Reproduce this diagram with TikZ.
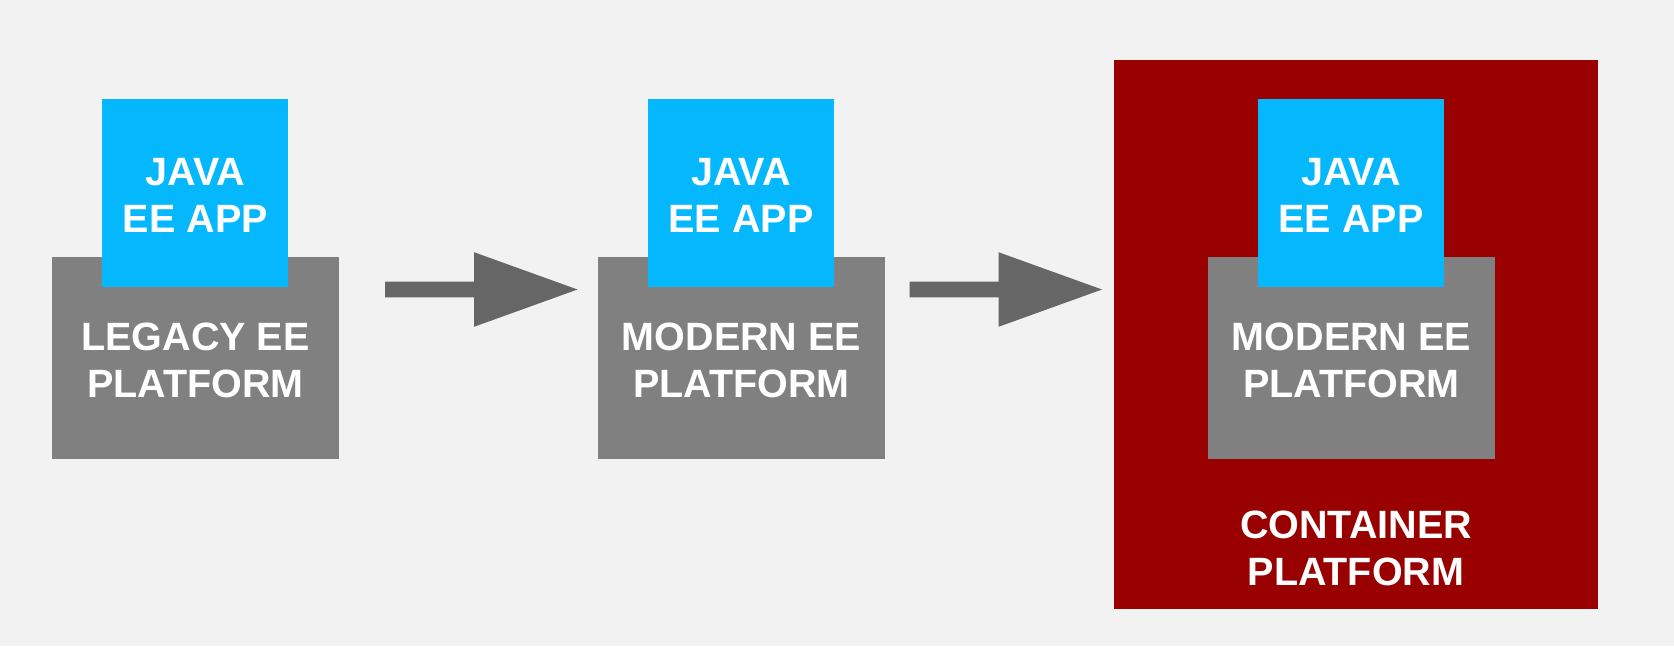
\documentclass[tikz,border=0pt]{standalone}
\usepackage{fontspec}
\setmainfont{Liberation Sans}
\usetikzlibrary{calc}
\definecolor{bgpage}{HTML}{F2F2F2}
\definecolor{appblue}{HTML}{05B8FE}
\definecolor{platgrey}{HTML}{808080}
\definecolor{arrowgrey}{HTML}{666666}
\definecolor{contred}{HTML}{990000}
\tikzset{
  boxtext/.style={text=white, font=\bfseries\fontsize{39.5}{47.5}\selectfont, align=center},
  boxlabel/.style={label={[boxtext, yshift=-2.5pt]center:#1}},
  appbox/.style={rectangle, fill=appblue, inner sep=0pt, minimum width=186pt, minimum height=188pt},
  platbox/.style={rectangle, fill=platgrey, inner sep=0pt, minimum width=287pt, minimum height=202pt},
  contbox/.style={rectangle, fill=contred, inner sep=0pt, minimum width=484pt, minimum height=549pt},
  blockarrow/.style={fill=arrowgrey}
}
\begin{document}
\begin{tikzpicture}[x=1pt, y=-1pt]
  % page background
  \fill[bgpage] (0,0) rectangle (1674,646);
  \useasboundingbox (0,0) rectangle (1674,646);

  % container platform
  \node[contbox] (cont) at (1356,334.5) {};
  \node[boxtext] (conttext) at (1356,548.6) {CONTAINER\\PLATFORM};

  % platforms
  \node[platbox, boxlabel={LEGACY EE\\PLATFORM}] (plat1) at (195.5,358) {};
  \node[platbox, boxlabel={MODERN EE\\PLATFORM}] (plat2) at (741.5,358) {};
  \node[platbox, boxlabel={MODERN EE\\PLATFORM}] (plat3) at (1351.5,358) {};

  % applications sitting on the platforms
  \node[appbox, boxlabel={JAVA\\EE APP}] (app1) at (195.3,193) {};
  \node[appbox, boxlabel={JAVA\\EE APP}] (app2) at (741,193) {};
  \node[appbox, boxlabel={JAVA\\EE APP}] (app3) at (1351,193) {};

  % block arrows between the stages
  \coordinate (a1s) at (385,289.5);
  \coordinate (a1t) at (577.5,289.5);
  \coordinate (a2s) at (909.5,289.5);
  \coordinate (a2t) at (1102,289.5);
  \foreach \s/\t in {a1s/a1t, a2s/a2t}{
    \fill[blockarrow] ($(\s)+(0,-7.8)$) -- ($(\s)+(89,-7.8)$) -- ($(\s)+(89,-37.3)$)
      -- (\t) -- ($(\s)+(89,37.3)$) -- ($(\s)+(89,7.8)$) -- ($(\s)+(0,7.8)$) -- cycle;
  }
\end{tikzpicture}
\end{document}
